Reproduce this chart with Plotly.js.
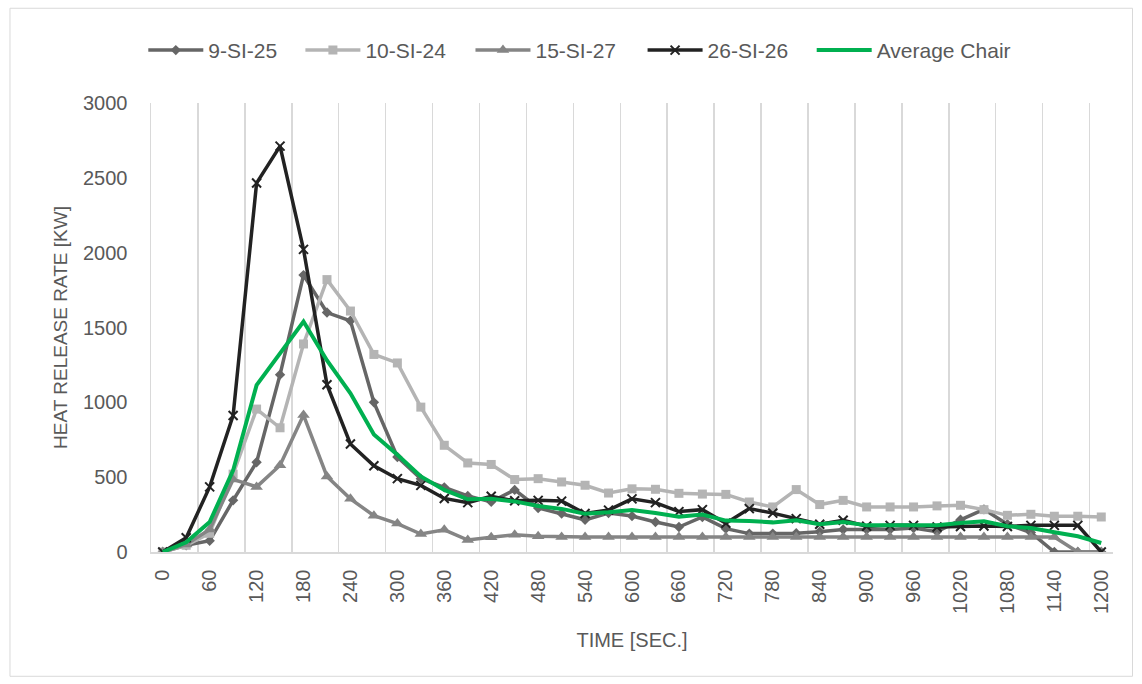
<!DOCTYPE html>
<html>
<head>
<meta charset="utf-8">
<script src="https://cdn.plot.ly/plotly-3.0.1.min.js"></script>
<style>
  html, body { margin: 0; padding: 0; background: #ffffff; }
  #chart { width: 1142px; height: 684px; }
</style>
</head>
<body>
<div id="chart"></div>
<script>
// Time (seconds) – category values
const timeSec = [0,30,60,90,120,150,180,210,240,270,300,330,360,390,420,450,480,510,540,570,600,630,660,690,720,750,780,810,840,870,900,930,960,990,1020,1050,1080,1110,1140,1170,1200];

// Heat release rate [kW] per test
const si9_25 = [0,45,75,345,600,1185,1850,1600,1545,1000,635,490,432,375,335,415,294,257,215,260,240,200,167,234,156,123,123,125,135,150,150,150,160,136,215,285,185,130,0,0,0];
const si10_24 = [0,45,125,520,955,830,1390,1820,1610,1320,1263,968,713,595,585,484,490,468,446,394,422,419,392,387,385,334,301,417,317,345,301,301,301,308,312,283,245,252,239,239,234];
const si15_27 = [0,50,150,485,435,580,915,505,355,243,190,120,148,80,98,116,105,100,100,100,100,100,100,100,100,100,100,100,100,100,100,100,100,100,100,100,100,100,100,0,0];
const si26_26 = [0,95,435,912,2465,2712,2022,1118,722,576,490,445,358,330,372,342,345,340,257,280,355,330,270,283,192,290,260,223,185,212,172,178,178,167,170,174,170,178,178,178,0];
const avgChair = [0,65,200,545,1115,1330,1540,1280,1060,785,650,505,415,352,355,338,308,288,255,265,280,260,236,250,210,207,198,212,186,200,178,178,180,178,194,205,172,160,132,105,60];

const seriesNames = ['9-SI-25','10-SI-24','15-SI-27','26-SI-26','Average Chair'];
const yTickVals = [0,500,1000,1500,2000,2500,3000];

// ---- styling (kept apart from data) ----
const FONT = 'Liberation Sans, Arial, sans-serif';
const TXT = '#595959';
const GRID = '#D9D9D9';

const xTickVals = timeSec.filter((t, i) => i % 2 === 0);
const xTickText = xTickVals.map(String);
// category boundaries every second category (Excel "between tick marks")
const step = timeSec[1] - timeSec[0];
const gridVals = [];
for (let i = 0; i < timeSec.length; i += 2) gridVals.push(timeSec[i] - step / 2);

const legendIds = ['legend', 'legend2', 'legend3', 'legend4', 'legend5'];
const legendX = [-0.008, 0.1553, 0.3321, 0.5110, 0.6868];

const traces = [
  {name: seriesNames[0], y: si9_25, color: '#666666', symbol: 'diamond', size: 8},
  {name: seriesNames[1], y: si10_24, color: '#B4B4B4', symbol: 'square', size: 9},
  {name: seriesNames[2], y: si15_27, color: '#858585', symbol: 'triangle-up', size: 11},
  {name: seriesNames[3], y: si26_26, color: '#222222', symbol: 'x-thin', size: 9},
].map((s, k) => ({
  type: 'scatter', mode: 'lines+markers', name: s.name, x: timeSec, y: s.y,
  legend: legendIds[k],
  line: {color: s.color, width: 3.5},
  marker: {symbol: s.symbol, size: s.size, color: s.color,
           line: {color: s.color, width: s.symbol === 'x-thin' ? 2 : 0}},
  hoverinfo: 'x+y+name'
}));
traces.push({
  type: 'scatter', mode: 'lines', name: seriesNames[4], x: timeSec, y: avgChair,
  legend: legendIds[4],
  line: {color: '#00B050', width: 4}
});

const layout = {
  width: 1142, height: 684,
  paper_bgcolor: '#ffffff', plot_bgcolor: '#ffffff',
  margin: {l: 151, r: 29, t: 103, b: 132},
  font: {family: FONT, color: TXT, size: 20},
  showlegend: true,
  xaxis: {
    range: [timeSec[0] - step / 2, timeSec[timeSec.length - 1] + step / 2],
    tickmode: 'array', tickvals: xTickVals, ticktext: xTickText,
    tickangle: -90, tickfont: {family: FONT, size: 20, color: TXT},
    ticks: '', ticklabelstandoff: 8,
    showgrid: false, zeroline: false,
    showline: true, linecolor: GRID, linewidth: 1.5,
    minor: {tickmode: 'array', tickvals: gridVals, showgrid: true, gridcolor: GRID, gridwidth: 1.5, ticks: ''},
    title: {text: 'TIME [SEC.]', font: {family: FONT, size: 20, color: TXT}, standoff: 20},
    fixedrange: true
  },
  yaxis: {
    range: [0, 3000], tickmode: 'array', tickvals: yTickVals, ticktext: yTickVals.map(String),
    tickfont: {family: FONT, size: 20, color: TXT},
    ticks: '', ticklabelstandoff: 18,
    showgrid: false, zeroline: false,
    showline: true, linecolor: GRID, linewidth: 1.5,
    title: {text: 'HEAT RELEASE RATE [KW]', font: {family: FONT, size: 19, color: TXT}, standoff: 10},
    fixedrange: true
  },
  shapes: [{
    type: 'rect', xref: 'paper', yref: 'paper',
    x0: -0.1466, x1: 1.0203, y0: -0.2768, y1: 1.211,
    line: {color: GRID, width: 1}, fillcolor: 'rgba(0,0,0,0)', layer: 'below'
  }]
};
legendIds.forEach((id, k) => {
  layout[id] = {
    orientation: 'h', x: legendX[k], xanchor: 'left', y: 1.117, yanchor: 'middle',
    font: {family: FONT, size: 21, color: TXT},
    bgcolor: 'rgba(0,0,0,0)', itemwidth: 55
  };
});

Plotly.newPlot('chart', traces, layout, {displayModeBar: false, responsive: false, staticPlot: true});
</script>
</body>
</html>
